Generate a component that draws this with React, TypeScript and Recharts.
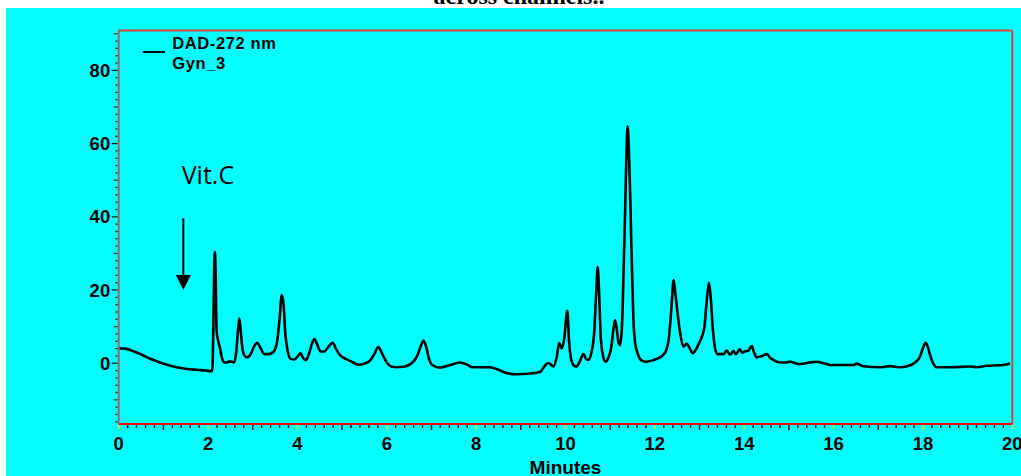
import React from 'react';
import { LineChart, Line, XAxis, YAxis, ReferenceLine, ReferenceDot, Label } from 'recharts';

// retention time (minutes)
const times = [
  0.0, 0.15, 0.3, 0.45, 0.6, 0.75, 0.92, 1.1, 1.3, 1.5, 1.75, 1.95, 2.08, 2.1, 2.12, 2.14, 2.155, 2.17, 2.19, 2.22,
  2.26, 2.31, 2.36, 2.42, 2.47, 2.53, 2.58, 2.63, 2.67, 2.7, 2.73, 2.77, 2.82, 2.88, 2.96, 3.03, 3.1, 3.17, 3.26, 3.36,
  3.47, 3.54, 3.6, 3.65, 3.69, 3.73, 3.78, 3.85, 3.93, 4.0, 4.07, 4.13, 4.19, 4.27, 4.33, 4.38, 4.44, 4.52, 4.6, 4.7,
  4.79, 4.86, 4.95, 5.08, 5.2, 5.36, 5.5, 5.63, 5.72, 5.81, 5.9, 6.0, 6.1, 6.22, 6.4, 6.55, 6.68, 6.77, 6.82, 6.88,
  6.95, 7.01, 7.19, 7.42, 7.64, 7.8, 7.92, 8.31, 8.5, 8.69, 8.91, 9.2, 9.44, 9.52, 9.6, 9.66, 9.73, 9.8, 9.86, 9.91,
  9.97, 10.04, 10.08, 10.12, 10.18, 10.24, 10.32, 10.4, 10.46, 10.51, 10.58, 10.64, 10.69, 10.72, 10.75, 10.79, 10.84, 10.9, 10.96, 11.02,
  11.08, 11.11, 11.15, 11.19, 11.22, 11.26, 11.3, 11.34, 11.37, 11.39, 11.42, 11.45, 11.49, 11.52, 11.56, 11.62, 11.7, 11.8, 11.97, 12.08,
  12.19, 12.26, 12.31, 12.37, 12.42, 12.46, 12.51, 12.57, 12.64, 12.71, 12.76, 12.85, 12.92, 12.99, 13.06, 13.11, 13.16, 13.21, 13.25, 13.3,
  13.35, 13.4, 13.54, 13.61, 13.68, 13.76, 13.81, 13.9, 13.95, 14.02, 14.09, 14.17, 14.22, 14.28, 14.4, 14.51, 14.58, 14.65, 14.8, 14.92,
  15.03, 15.15, 15.25, 15.45, 15.63, 15.78, 15.93, 16.2, 16.45, 16.52, 16.6, 16.67, 17.04, 17.27, 17.49, 17.65, 17.79, 17.87, 17.93, 17.99,
  18.06, 18.11, 18.16, 18.22, 18.31, 18.6, 19.06, 19.21, 19.43, 19.6, 19.8, 19.95,
];

// detector response (mAU)
const absorbance = [
  4.1, 4.0, 3.4, 2.7, 1.8, 1.0, 0.2, -0.5, -1.1, -1.5, -1.8, -2.0, -2.2, -1.0, 12.0, 27.0, 30.4, 24.0, 9.0, 6.5,
  4.5, 1.5, 0.2, 0.2, 0.5, 0.4, 0.2, 3.0, 9.0, 12.2, 9.0, 4.0, 2.0, 1.6, 2.6, 4.6, 5.6, 4.3, 2.5, 2.5,
  3.2, 5.5, 12.0, 18.6, 16.0, 8.0, 3.5, 1.2, 1.0, 1.8, 2.7, 1.4, 0.9, 3.0, 5.5, 6.6, 5.2, 3.2, 3.2, 4.6,
  5.6, 4.0, 2.3, 1.2, 0.5, -0.4, -0.1, 0.8, 2.5, 4.4, 2.5, 0.2, -0.9, -1.1, -0.9, -0.1, 2.0, 5.0, 6.2, 4.5,
  1.0, -0.4, -1.2, -0.5, 0.2, -0.4, -1.1, -1.1, -1.8, -2.7, -3.0, -2.8, -2.3, -1.0, 0.0, -0.2, -0.9, 1.5, 5.5, 4.1,
  6.5, 14.3, 6.0, 1.5, -0.5, -0.9, 0.5, 2.5, 1.2, 0.9, 3.0, 8.0, 20.0, 26.3, 20.0, 7.0, 2.0, 0.4, 1.5, 4.0,
  10.0, 11.8, 9.0, 5.5, 5.0, 9.1, 25.0, 44.5, 60.0, 64.7, 58.0, 44.5, 25.0, 12.0, 5.5, 2.5, 0.8, 0.4, 0.9, 1.4,
  2.3, 3.8, 6.5, 15.0, 22.7, 19.0, 13.5, 8.0, 4.5, 5.3, 4.6, 2.7, 3.8, 5.5, 7.5, 10.0, 17.0, 22.0, 18.0, 9.0,
  4.0, 2.5, 2.5, 3.5, 2.3, 3.3, 2.4, 3.8, 2.9, 3.3, 3.4, 4.7, 3.0, 1.6, 2.0, 2.5, 1.5, 0.9, 0.2, 0.2,
  0.4, 0.0, -0.2, 0.2, 0.4, 0.0, -0.5, -0.5, -0.5, -0.1, -0.5, -0.8, -1.1, -0.8, -1.1, -0.8, -0.1, 0.7, 1.7, 3.8,
  5.6, 4.4, 2.2, 0.2, -1.1, -1.1, -0.9, -1.1, -0.7, -0.6, -0.5, -0.1,
];

const xLabelTicks = [0, 2, 4, 6, 8, 10, 12, 14, 16, 18, 20];
const yLabelTicks = [0, 20, 40, 60, 80];
const legendLines = ['DAD-272 nm', 'Gyn_3'];
const annotationText = 'Vit.C';
const titleText = 'across channels..';
const xAxisTitle = 'Minutes';

const X_DOMAIN: [number, number] = [0, 20];
const Y_DOMAIN: [number, number] = [-16.6, 90.9];

const data = times.map((t, i) => ({ t, v: absorbance[i] }));

const xTicks: number[] = [];
for (let i = 0; i <= 100; i++) xTicks.push(Math.round(i * 2) / 10);
const yTicks: number[] = [];
for (let v = -16; v <= 90; v += 2) yTicks.push(v);

const FONT = '"Liberation Sans", Arial, sans-serif';

const XTick = (props: any) => {
  const { x, y, payload } = props;
  const v = payload.value;
  const isLabel = xLabelTicks.includes(v);
  const isInt = Math.abs(v - Math.round(v)) < 1e-6;
  const len = isLabel ? 4 : isInt ? 5 : 3;
  const color = isLabel ? '#e6e600' : '#000';
  return (
    <g>
      <line x1={x} x2={x} y1={y + 1} y2={y + 1 + len} stroke={color} strokeWidth={1.5} />
      {isLabel && (
        <text x={x} y={y + 25.5} textAnchor="middle" fontFamily={FONT} fontWeight="bold" fontSize={18.5} fill="#000">
          {v}
        </text>
      )}
    </g>
  );
};

const YTick = (props: any) => {
  const { x, y, payload } = props;
  const v = payload.value;
  const isLabel = yLabelTicks.includes(v);
  const isTen = v % 10 === 0;
  const len = isLabel ? 6 : isTen ? 4 : 2.5;
  return (
    <g>
      <line x1={x - 1} x2={x - 1 - len} y1={y} y2={y} stroke="#222" strokeWidth={1.3} />
      {isLabel && (
        <text x={x - 8.5} y={y + 6.5} textAnchor="end" fontFamily={FONT} fontWeight="bold" fontSize={18.5} fill="#000">
          {v}
        </text>
      )}
    </g>
  );
};

const ArrowHead = (props: any) => {
  const { cx, cy } = props;
  if (cx == null || cy == null) return null;
  return <polygon points={`${cx},${cy} ${cx - 7.5},${cy - 15} ${cx + 7.5},${cy - 15}`} fill="#000" />;
};

const AnnotationText = (props: any) => {
  const { cx, cy } = props;
  if (cx == null || cy == null) return null;
  return (
    <text x={cx} y={cy} fontFamily='"Open Sans", sans-serif' fontSize={25} fill="#000">
      {annotationText}
    </text>
  );
};

const AxisTitle = (props: any) => {
  const vb = props.viewBox || { x: 112.7, y: 416, width: 893.6, height: 52 };
  return (
    <text x={vb.x + vb.width / 2} y={vb.y + 50} textAnchor="middle" fontFamily={FONT} fontWeight="bold" fontSize={19} fill="#000">
      {xAxisTitle}
    </text>
  );
};

export default function App() {
  return (
    <div style={{ position: 'absolute', left: 0, top: 0, width: 1021, height: 476, background: '#fff', overflow: 'hidden' }}>
      <svg width={1021} height={8} style={{ position: 'absolute', left: 0, top: 0 }}>
        <text x={519} y={3.5} textAnchor="middle" fontFamily='"Liberation Serif", "Times New Roman", serif' fontWeight="bold" fontSize={24} fill="#000">
          {titleText}
        </text>
      </svg>
      <div style={{ position: 'absolute', left: 6, top: 8, width: 1015, height: 468, background: '#00ffff' }}>
        <LineChart width={1015} height={468} data={data} margin={{ top: 22.5, right: 8.7, left: 0, bottom: 0 }}>
          <XAxis
            dataKey="t"
            type="number"
            domain={X_DOMAIN}
            ticks={xTicks}
            interval={0}
            tickSize={0}
            tickMargin={0}
            tick={<XTick />}
            axisLine={{ stroke: '#ff0000', strokeWidth: 2 }}
            tickLine={false}
            height={52}
            allowDataOverflow
          >
            <Label content={<AxisTitle />} />
          </XAxis>
          <YAxis
            type="number"
            domain={Y_DOMAIN}
            ticks={yTicks}
            interval={0}
            tickSize={0}
            tickMargin={0}
            tick={<YTick />}
            axisLine={{ stroke: '#9a6a6a', strokeWidth: 2 }}
            tickLine={false}
            width={112.7}
            allowDataOverflow
          />
          <ReferenceLine y={Y_DOMAIN[1]} stroke="#d9443f" strokeWidth={2} />
          <ReferenceLine x={X_DOMAIN[1]} stroke="#d9443f" strokeWidth={2} />
          <ReferenceLine segment={[{ x: 1.446, y: 39.6 }, { x: 1.446, y: 23.5 }]} stroke="#000" strokeWidth={2} />
          <ReferenceDot x={1.446} y={20} r={0} shape={<ArrowHead />} />
          <ReferenceDot x={1.41} y={48.95} r={0} shape={<AnnotationText />} />
          <Line type="monotone" dataKey="v" stroke="#000" strokeWidth={2.6} dot={false} isAnimationActive={false} />
        </LineChart>
      </div>
      <svg width={1021} height={476} style={{ position: 'absolute', left: 0, top: 0, pointerEvents: 'none' }}>
        <line x1={142.7} x2={165} y1={52} y2={52} stroke="#000" strokeWidth={2} />
        <text x={172.3} y={49} fontFamily={FONT} fontWeight="bold" fontSize={16.5} letterSpacing={0.6} fill="#000">
          {legendLines[0]}
        </text>
        <text x={172.3} y={69.3} fontFamily={FONT} fontWeight="bold" fontSize={16.5} letterSpacing={0.6} fill="#000">
          {legendLines[1]}
        </text>
      </svg>
    </div>
  );
}
